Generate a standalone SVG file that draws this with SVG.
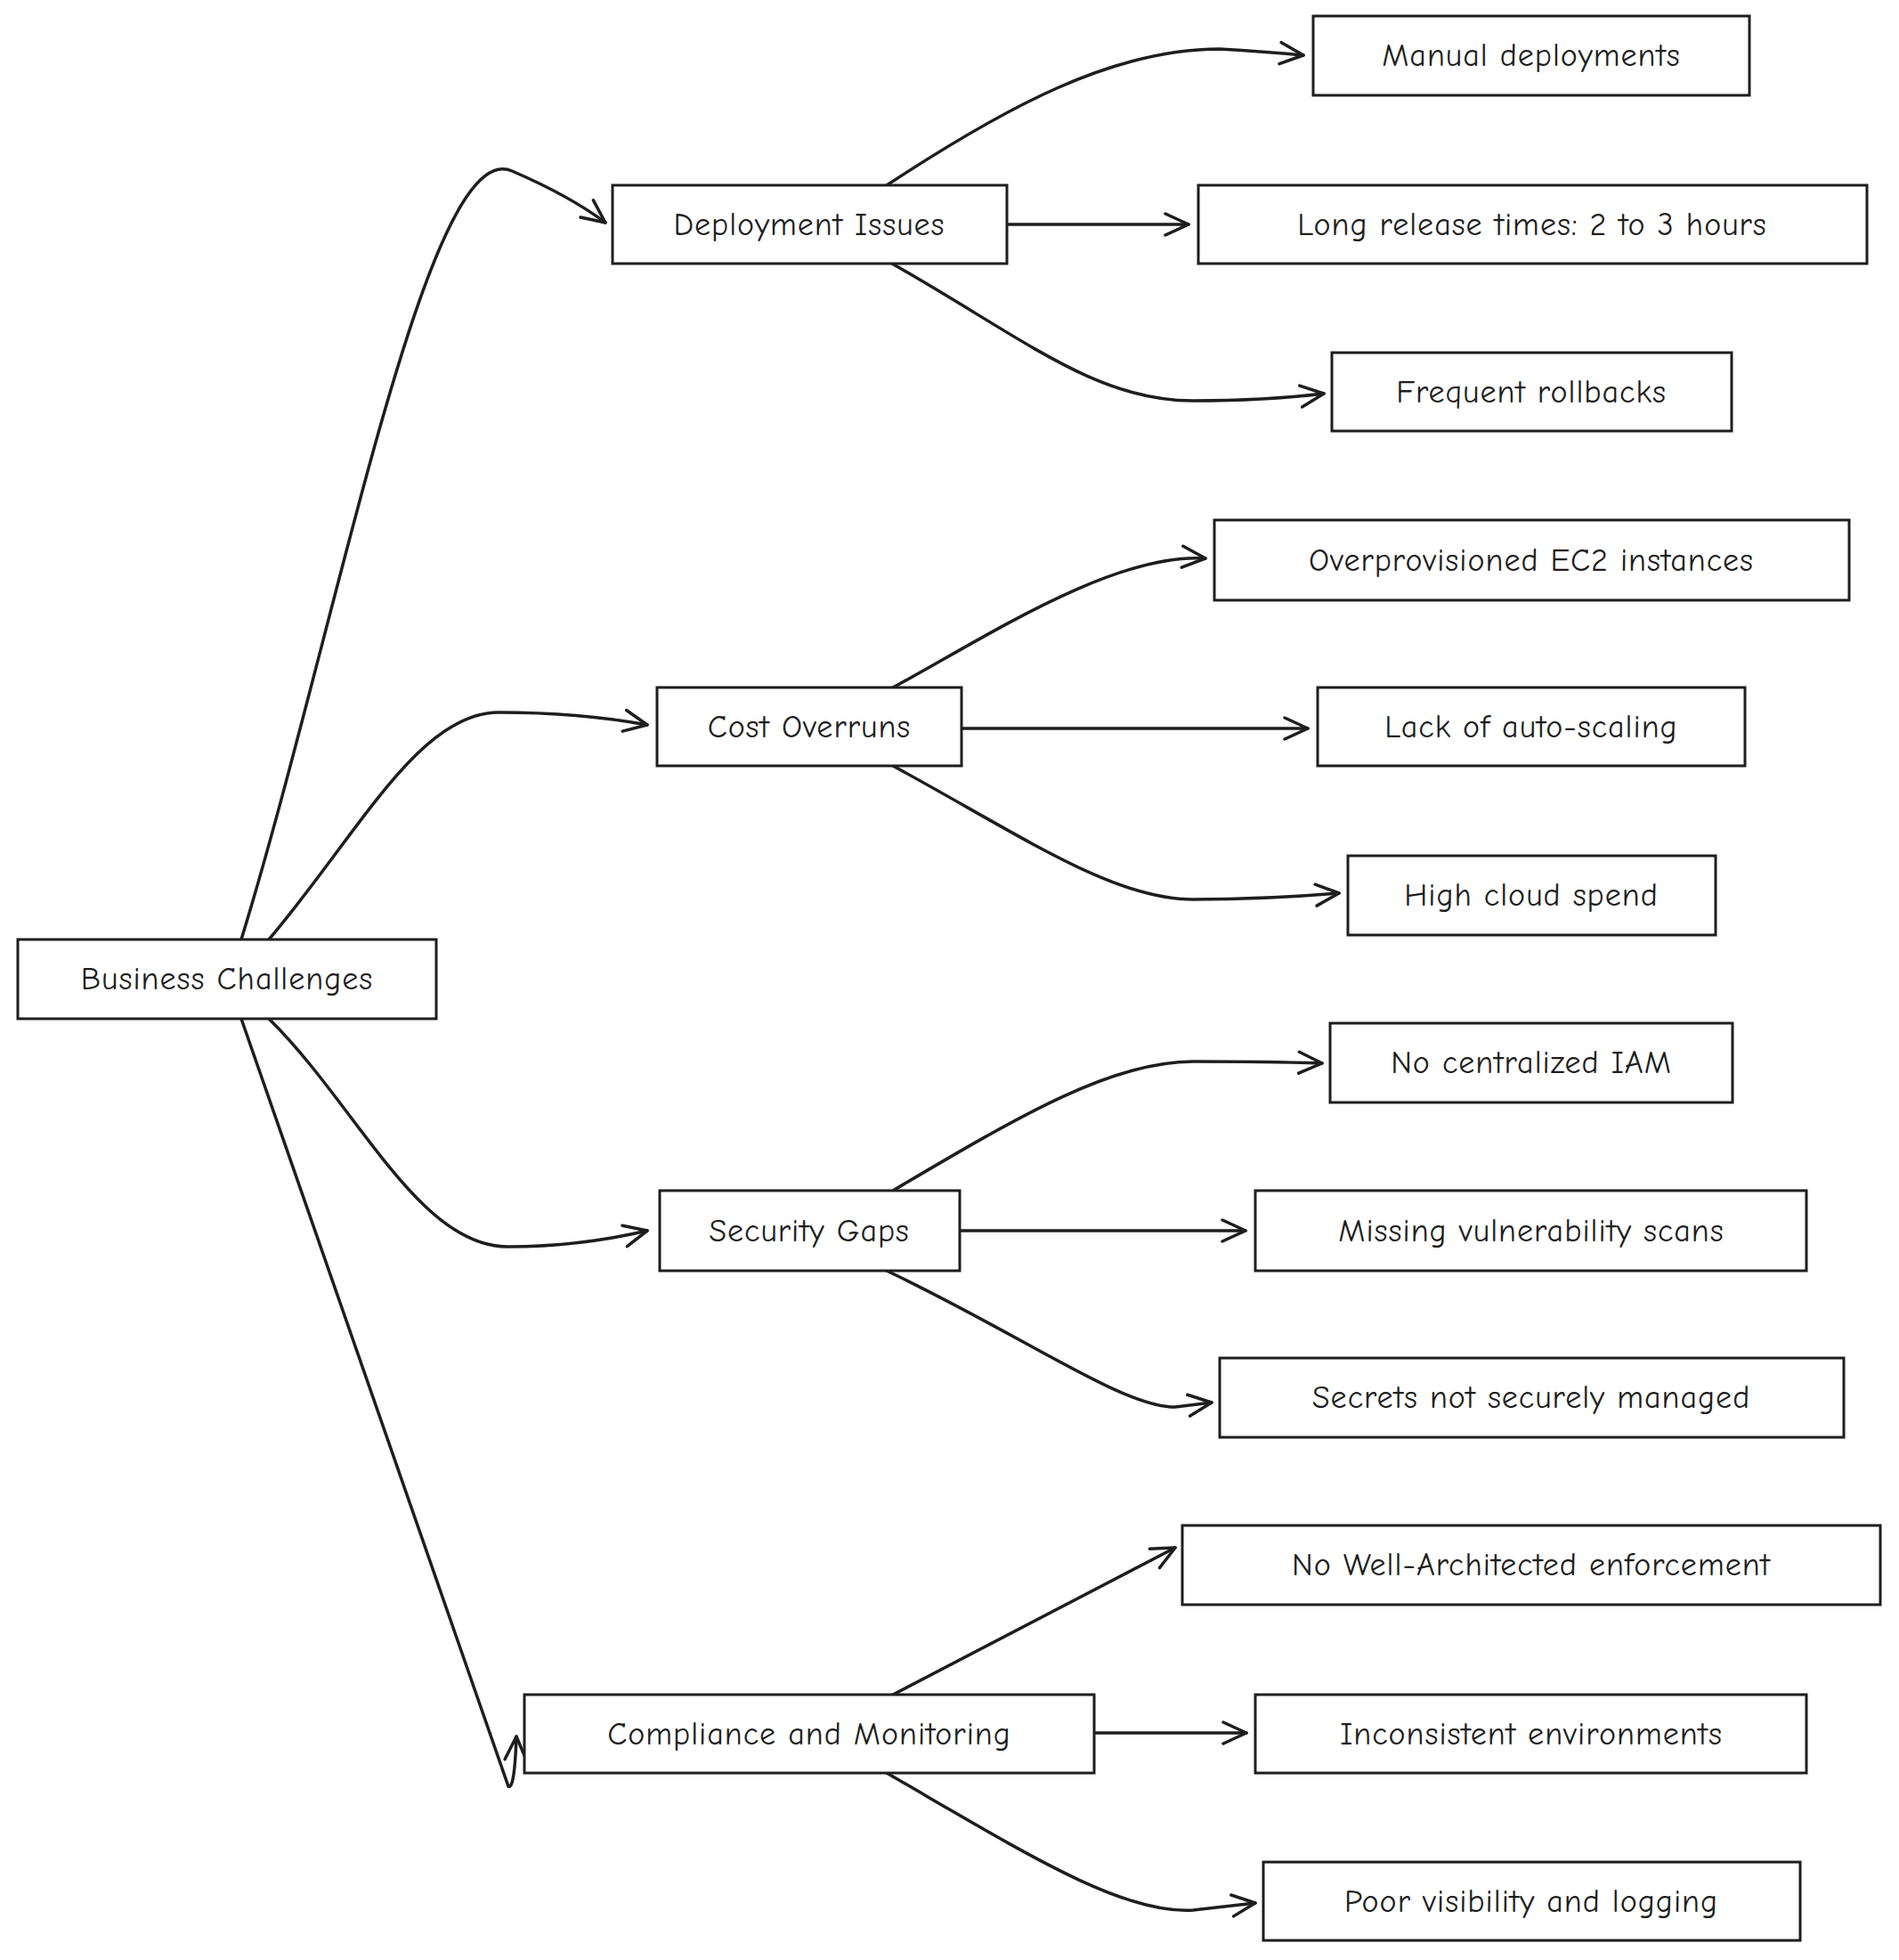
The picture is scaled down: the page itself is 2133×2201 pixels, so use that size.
<svg xmlns="http://www.w3.org/2000/svg" width="2133" height="2201" viewBox="0 0 2133 2201">
<style>
.n rect{fill:#fff;stroke:#1e1e1e;stroke-width:3}
.n text{font-family:"Comic Neue","Liberation Sans",sans-serif;font-size:36px;fill:#1e1e1e;text-anchor:middle;dominant-baseline:central;letter-spacing:1px}
.c path{fill:none;stroke:#1e1e1e;stroke-width:3.5;stroke-linecap:round;marker-end:url(#a)}
</style>
<defs><marker id="a" markerWidth="32" markerHeight="32" refX="28" refY="16" orient="auto" markerUnits="userSpaceOnUse" viewBox="0 0 32 32"><path d="M2,4 L28,16 L2,28" fill="none" stroke="#1e1e1e" stroke-width="3.5" stroke-linecap="round" stroke-linejoin="round"/></marker></defs>
<rect width="2133" height="2201" fill="#fff"/>
<g class="c">
<path d="M271,1055 C380,700 480,150 575,192 Q640,220 680,250"/>
<path d="M302,1055 C400,940 470,800 560,800 Q650,800 727,814"/>
<path d="M302,1144 C400,1240 470,1400 570,1400 Q650,1400 727,1382"/>
<path d="M271,1144 L571,2006 Q578,2010 580,1950"/>
<path d="M996,208 C1130,120 1250,55 1370,55 Q1420,58 1464,62"/>
<path d="M1131,252 L1335,252"/>
<path d="M1002,296 C1150,380 1230,450 1340,450 Q1420,450 1487,442"/>
<path d="M1003,772 C1100,720 1250,620 1354,627"/>
<path d="M1080,818 L1469,818"/>
<path d="M1003,860 C1150,940 1250,1010 1340,1010 Q1420,1010 1504,1003"/>
<path d="M1003,1337 C1150,1250 1250,1192 1340,1192 Q1420,1192 1485,1194"/>
<path d="M1078,1382 L1399,1382"/>
<path d="M996,1427 C1150,1500 1260,1580 1320,1580 L1361,1575"/>
<path d="M1003,1903 L1320,1738"/>
<path d="M1229,1946 L1400,1946"/>
<path d="M996,1991 C1150,2080 1260,2150 1340,2145 L1410,2137"/>
</g>
<g id="bc" class="n"><rect x="20" y="1055" width="470" height="89"/><text x="255" y="1099">Business Challenges</text></g>
<g id="di" class="n"><rect x="688" y="208" width="443" height="88"/><text x="909" y="252">Deployment Issues</text></g>
<g id="co" class="n"><rect x="738" y="772" width="342" height="88"/><text x="909" y="816">Cost Overruns</text></g>
<g id="sg" class="n"><rect x="741" y="1337" width="337" height="90"/><text x="909" y="1382">Security Gaps</text></g>
<g id="cm" class="n"><rect x="589" y="1903" width="640" height="88"/><text x="909" y="1947">Compliance and Monitoring</text></g>
<g id="md" class="n"><rect x="1475" y="18" width="490" height="89"/><text x="1720" y="62">Manual deployments</text></g>
<g id="lr" class="n"><rect x="1346" y="208" width="751" height="88"/><text x="1721" y="252">Long release times: 2 to 3 hours</text></g>
<g id="fr" class="n"><rect x="1496" y="396" width="449" height="88"/><text x="1720" y="440">Frequent rollbacks</text></g>
<g id="oe" class="n"><rect x="1364" y="584" width="713" height="90"/><text x="1720" y="629">Overprovisioned EC2 instances</text></g>
<g id="la" class="n"><rect x="1480" y="772" width="480" height="88"/><text x="1720" y="816">Lack of auto-scaling</text></g>
<g id="hc" class="n"><rect x="1514" y="961" width="413" height="89"/><text x="1720" y="1005">High cloud spend</text></g>
<g id="ni" class="n"><rect x="1494" y="1149" width="452" height="89"/><text x="1720" y="1193">No centralized IAM</text></g>
<g id="mv" class="n"><rect x="1410" y="1337" width="619" height="90"/><text x="1720" y="1382">Missing vulnerability scans</text></g>
<g id="sn" class="n"><rect x="1370" y="1525" width="701" height="89"/><text x="1720" y="1569">Secrets not securely managed</text></g>
<g id="nw" class="n"><rect x="1328" y="1713" width="784" height="89"/><text x="1720" y="1757">No Well-Architected enforcement</text></g>
<g id="ie" class="n"><rect x="1410" y="1903" width="619" height="88"/><text x="1720" y="1947">Inconsistent environments</text></g>
<g id="pv" class="n"><rect x="1419" y="2091" width="603" height="88"/><text x="1720" y="2135">Poor visibility and logging</text></g>
</svg>
